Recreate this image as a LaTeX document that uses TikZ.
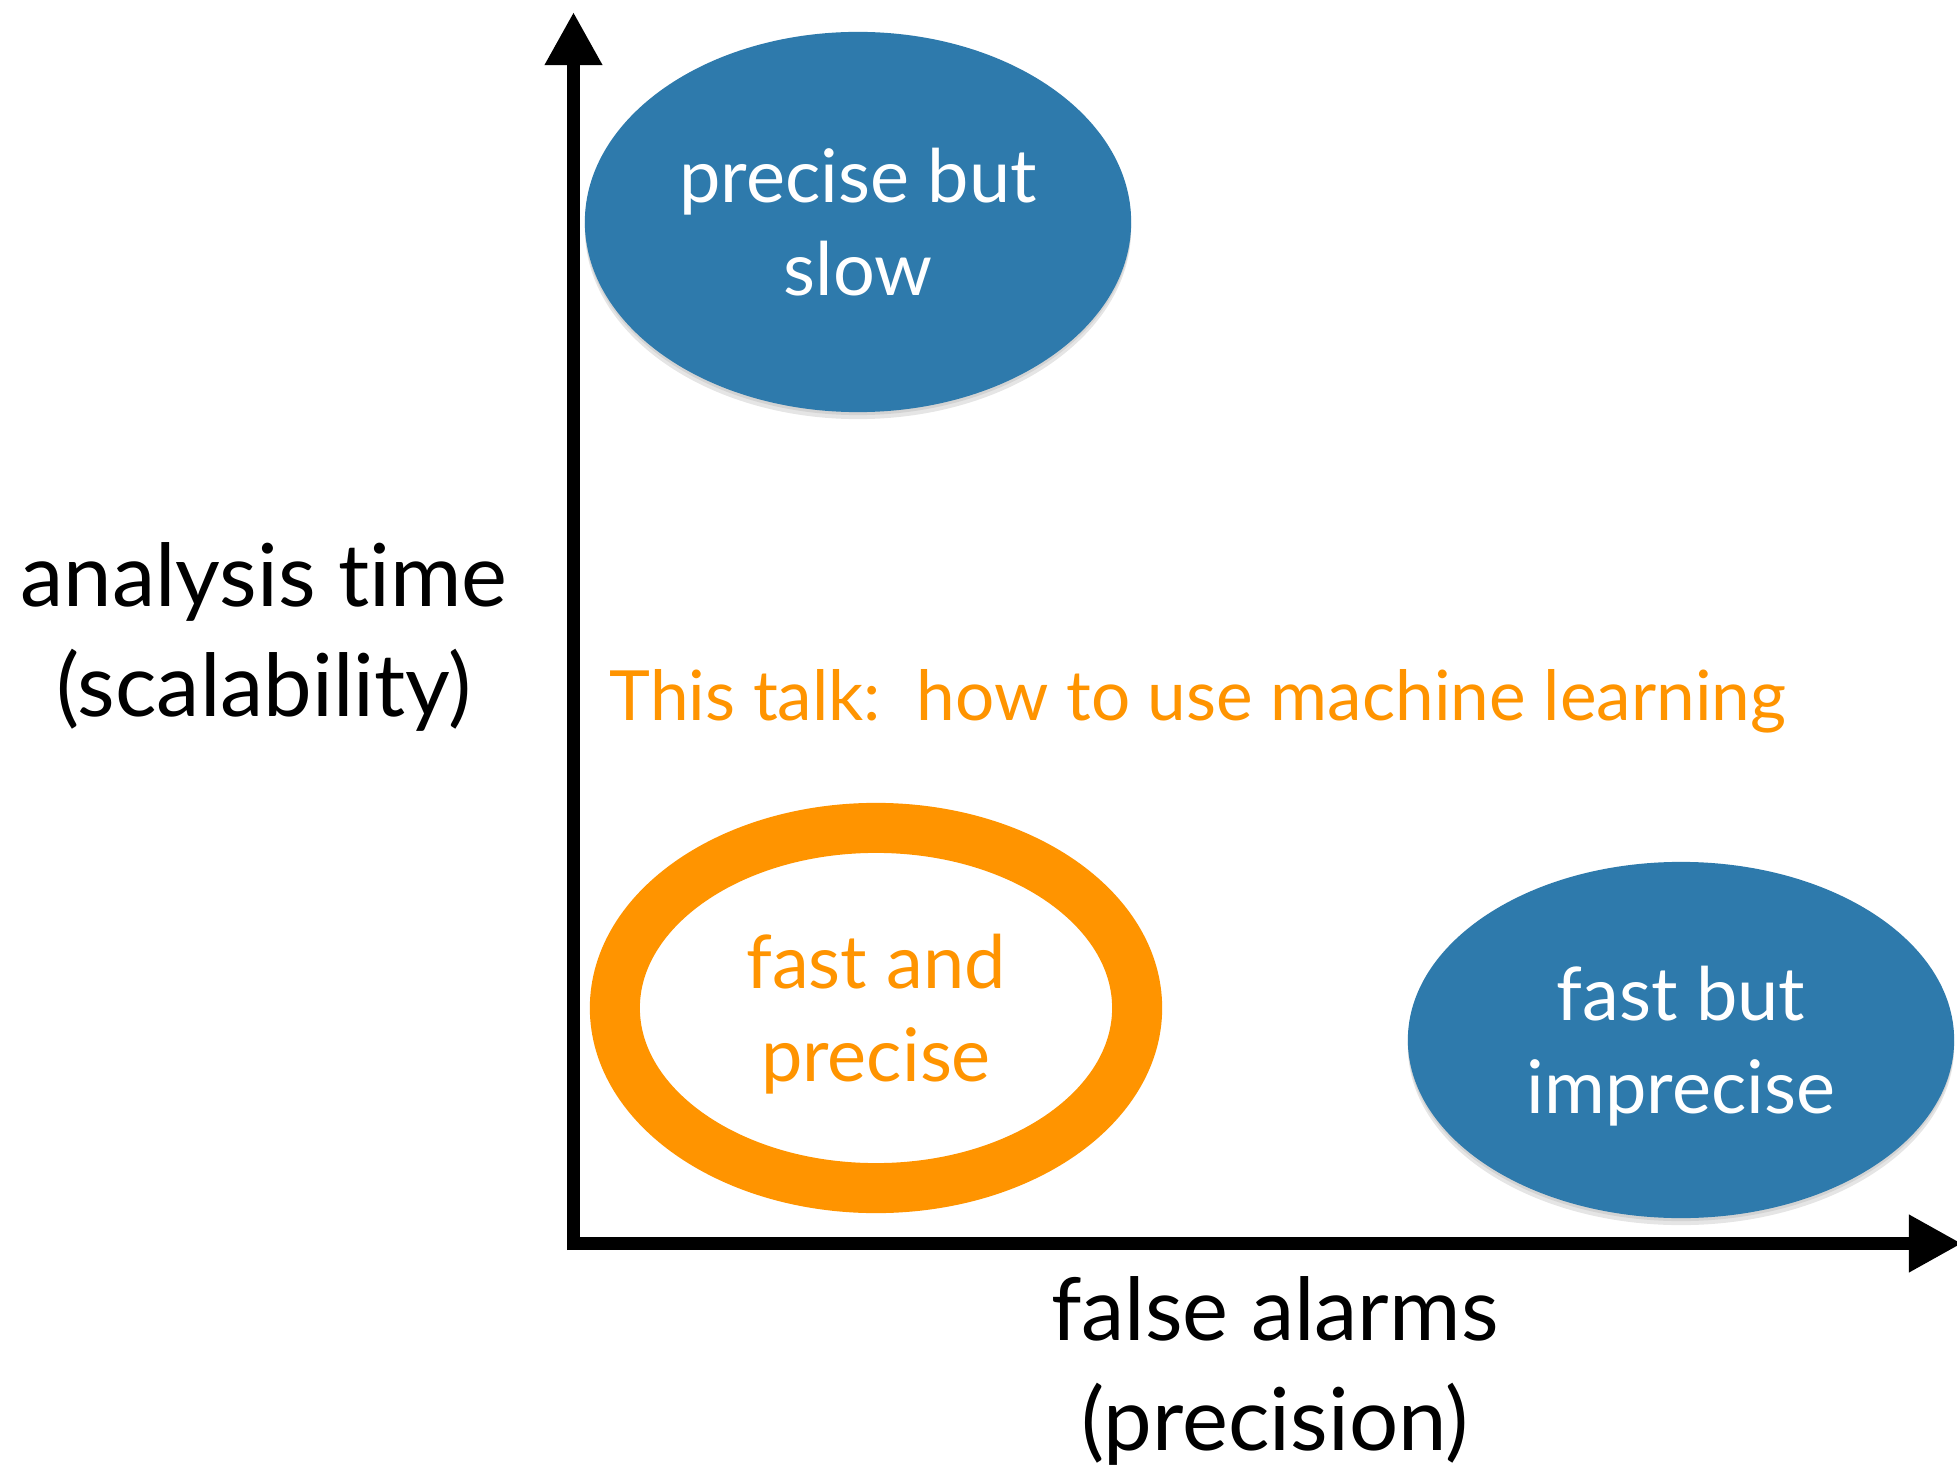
\documentclass[tikz,border=0pt]{standalone}
\usepackage{fontspec}
\setmainfont{Lato}[Ligatures={NoCommon}]
\usetikzlibrary{arrows.meta,shapes.geometric}
\definecolor{blobblue}{RGB}{46,122,172}
\definecolor{talkorange}{RGB}{255,148,0}
\begin{document}
\begin{tikzpicture}[x=0.01cm,y=-0.01cm,
  axis/.style={line width=0.13cm,-{Triangle[width=0.54cm,length=0.53cm]}},
  bubbletext/.style={inner sep=0pt,align=center,text depth=0pt,
    font=\fontsize{21}{26.5}\selectfont},
  blob/.style={bubbletext,ellipse,fill=blobblue,text=white,
    preaction={fill=black,opacity=0.10,transform canvas={yshift=-0.07cm}},
    preaction={fill=black,opacity=0.08,transform canvas={yshift=-0.03cm}}},
  ring/.style={bubbletext,ellipse,draw=talkorange,line width=0.5cm,text=talkorange},
  axislabel/.style={inner sep=0pt,align=center,anchor=base,
    font=\fontsize{24.7}{31}\selectfont}
]
% canvas
\fill[white] (0,0) rectangle (1957,1467);
\useasboundingbox (0,0) rectangle (1957,1467);

% axes
\coordinate (ybot) at (573.5,1250);
\coordinate (ytop) at (573.5,12);
\coordinate (xleft) at (567,1243.5);
\coordinate (xright) at (1962,1243.5);
\draw[axis] (ybot) -- (ytop);
\draw[axis] (xleft) -- (xright);

% regions of the trade-off
\node[blob,minimum width=5.46cm,minimum height=3.8cm] (slow) at (858,222)
  {precise but\\slow};
\node[ring,minimum width=5.22cm,minimum height=3.6cm] (goal) at (876,1008)
  {fast and\\precise};
\node[blob,minimum width=5.46cm,minimum height=3.56cm] (imprecise) at (1681,1040)
  {fast but\\imprecise};

% axis titles (anchored on the baseline of their last line)
\node[axislabel] (ylabel) at (264,716) {analysis time\\(scalability)};
\node[axislabel] (xlabel) at (1275,1450) {false alarms\\(precision)};

% headline
\node[anchor=base west,inner sep=0pt,text=talkorange,
  font=\fontsize{19.7}{24}\selectfont] (talk) at (609,720)
  {This talk:\ \ how to use machine learning};
\end{tikzpicture}
\end{document}
